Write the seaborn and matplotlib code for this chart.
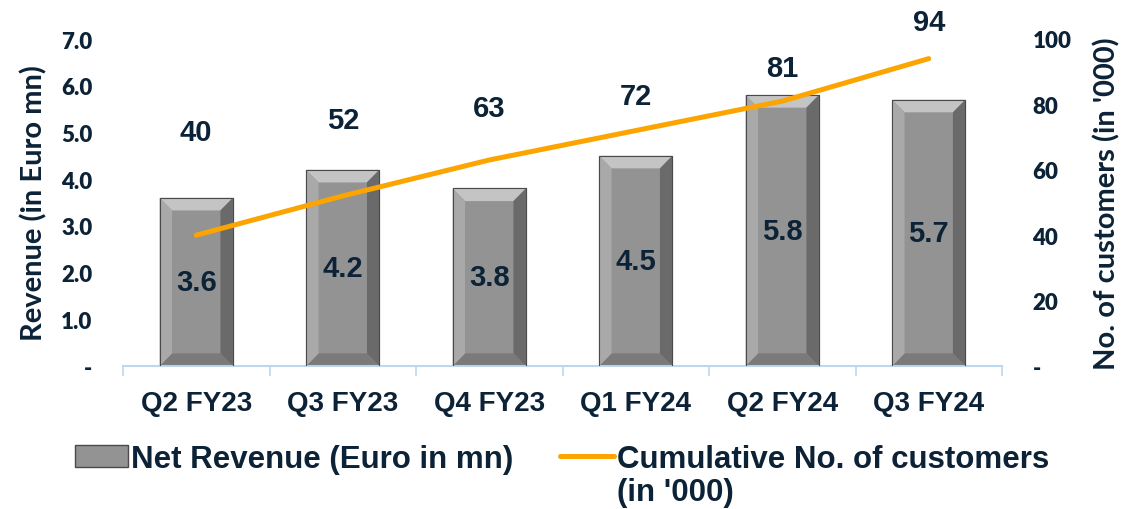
import numpy as np
import pandas as pd
import matplotlib
matplotlib.use('Agg')
import matplotlib.pyplot as plt
import seaborn as sns
from matplotlib.patches import Polygon, Patch
from matplotlib.lines import Line2D

# data
quarters = ['Q2 FY23', 'Q3 FY23', 'Q4 FY23', 'Q1 FY24', 'Q2 FY24', 'Q3 FY24']
revenue = [3.6, 4.2, 3.8, 4.5, 5.8, 5.7]
customers = [40, 52, 63, 72, 81, 94]

# where the customer labels sit (right axis units)
cust_label_y = [71.6, 75.2, 78.9, 82.6, 91.1, 105.2]

navy = '#0c2236'
orange = '#fca400'
axis_blue = '#bdd7ee'
side_font = 'Lato'

sns.set_style('white')
plt.rcParams['font.family'] = ['Liberation Sans', 'DejaVu Sans']

df = pd.DataFrame({'quarter': quarters, 'revenue': revenue, 'customers': customers})

fig = plt.figure(figsize=(11.25, 5.1), dpi=100)
ax = fig.add_axes([123/1125, 1 - 367/510, 879/1125, 327/510])

sns.barplot(data=df, x='quarter', y='revenue', color='#939393', width=0.5,
            saturation=1, edgecolor='#5a5a5a', linewidth=0.8, ax=ax, zorder=2)

# bevel look on each bar
for p in ax.patches:
    x0, y0 = p.get_x(), p.get_y()
    w, h = p.get_width(), p.get_height()
    dx, dy = w * 0.17, 0.27
    x1, y1 = x0 + w, y0 + h
    faces = [
        ([(x0, y1), (x1, y1), (x1 - dx, y1 - dy), (x0 + dx, y1 - dy)], '#c4c4c4'),
        ([(x0, y0), (x1, y0), (x1 - dx, y0 + dy), (x0 + dx, y0 + dy)], '#7a7a7a'),
        ([(x0, y0), (x0 + dx, y0 + dy), (x0 + dx, y1 - dy), (x0, y1)], '#a9a9a9'),
        ([(x1, y0), (x1 - dx, y0 + dy), (x1 - dx, y1 - dy), (x1, y1)], '#6a6a6a'),
    ]
    for pts, c in faces:
        ax.add_patch(Polygon(pts, closed=True, facecolor=c, edgecolor='none', zorder=2.5))
    ax.add_patch(Polygon([(x0, y0), (x1, y0), (x1, y1), (x0, y1)], closed=True,
                         facecolor='none', edgecolor='#4a4a4a', linewidth=0.8, zorder=2.6))

for i, v in enumerate(revenue):
    ax.text(i, v / 2, f'{v:.1f}', ha='center', va='center', fontsize=21,
            fontweight='bold', color=navy, zorder=4)

ax.set_ylim(0, 7)
ax.set_xlim(-0.5, len(quarters) - 0.5)
ax.set_yticks(np.arange(0, 8, 1))
ax.set_yticklabels(['-'] + [f'{t:.1f}' for t in range(1, 8)],
                   fontfamily=side_font, fontweight='heavy', fontsize=16, color=navy)
ax.tick_params(axis='y', length=0, pad=22)
ax.set_xlabel('')
ax.set_ylabel('Revenue (in Euro mn)', fontfamily=side_font, fontweight='bold',
              fontsize=21, color=navy, labelpad=10)
ax.set_xticks(range(len(quarters)))
ax.set_xticklabels(quarters, fontsize=20, fontweight='bold', color=navy)
ax.tick_params(axis='x', which='major', length=0, pad=17)
ax.set_xticks(np.arange(-0.5, len(quarters), 1), minor=True)
ax.tick_params(axis='x', which='minor', length=7, width=1.2, color=axis_blue, direction='out', bottom=True)
for s in ['top', 'left', 'right']:
    ax.spines[s].set_visible(False)
ax.spines['bottom'].set_color(axis_blue)
ax.spines['bottom'].set_linewidth(1.5)

ax2 = ax.twinx()
sns.lineplot(x=np.arange(len(quarters)), y=customers, color=orange, linewidth=3.6,
             ax=ax2, solid_capstyle='round', zorder=3)
ax2.set_ylim(0, 100)
ax2.set_yticks(np.arange(0, 101, 20))
ax2.set_yticklabels(['-'] + [str(t) for t in range(20, 101, 20)],
                    fontfamily=side_font, fontweight='heavy', fontsize=16, color=navy)
ax2.tick_params(axis='y', length=0, pad=22)
ax2.set_ylabel("No. of customers (in '000)", fontfamily=side_font, fontweight='bold',
               fontsize=21, color=navy, labelpad=16)
for s in ['top', 'left', 'right', 'bottom']:
    ax2.spines[s].set_visible(False)

for i, (v, ly) in enumerate(zip(customers, cust_label_y)):
    ax2.text(i, ly, str(v), ha='center', va='center', fontsize=21,
             fontweight='bold', color=navy, clip_on=False)

handles = [Patch(facecolor='#939393', edgecolor='#4a4a4a'),
           Line2D([0], [0], color=orange, linewidth=3.6)]
labels = ['Net Revenue (Euro in mn)', 'Cumulative No. of customers']
leg_font = {'family': 'Liberation Sans', 'weight': 'bold', 'size': 22.5}
leg = fig.legend(handles, labels, loc='center left', bbox_to_anchor=(75/1125, 1 - 460/510),
                 ncol=2, frameon=False, handlelength=1.7, handletextpad=0.1,
                 columnspacing=1.5, borderpad=0, borderaxespad=0, prop=leg_font)
for t in leg.get_texts():
    t.set_color(navy)

# second line of the customer legend entry, under its first line
fig.canvas.draw()
bb = leg.get_texts()[1].get_window_extent().transformed(fig.transFigure.inverted())
fig.text(bb.x0, bb.y0 - 0.005, "(in '000)", ha='left', va='top', color=navy,
         fontfamily='Liberation Sans', fontweight='bold', fontsize=22.5)

fig.savefig('out.png', dpi=100)
